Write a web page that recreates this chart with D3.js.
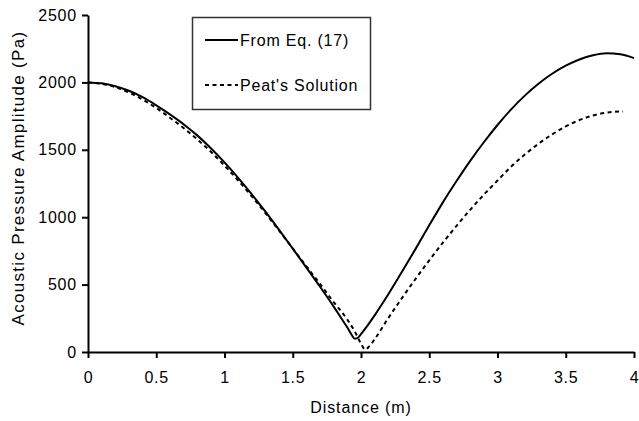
<!DOCTYPE html>
<html>
<head>
<meta charset="utf-8">
<script src="https://cdn.jsdelivr.net/npm/d3@7"></script>
<style>
  html, body { margin: 0; padding: 0; background: #fff; }
  text { font-family: "Liberation Sans", Arial, sans-serif; fill: #000; }
</style>
</head>
<body>
<svg id="chart" width="639" height="421"></svg>
<script>
// ---- data ----
const eqX = [0, 0.1, 0.2, 0.3, 0.4, 0.5, 0.6, 0.7, 0.8, 0.9, 1.0, 1.1, 1.2, 1.3, 1.4, 1.5, 1.6, 1.7, 1.8, 1.85, 1.9, 1.93, 1.955, 1.98, 2.0, 2.05, 2.1, 2.2, 2.3, 2.4, 2.5, 2.6, 2.7, 2.8, 2.9, 3.0, 3.1, 3.2, 3.3, 3.4, 3.5, 3.6, 3.7, 3.8, 3.9, 4.0];
const eqY = [2000, 1993, 1972, 1938, 1890, 1830, 1763, 1690, 1607, 1512, 1407, 1292, 1170, 1041, 906, 767, 626, 484, 337, 260, 181, 130, 99, 108, 133, 200, 272, 428, 595, 765, 940, 1110, 1268, 1418, 1556, 1684, 1800, 1902, 1990, 2064, 2124, 2170, 2201, 2216, 2208, 2180];
const peatX = [0, 0.1, 0.2, 0.3, 0.4, 0.5, 0.6, 0.7, 0.8, 0.9, 1.0, 1.1, 1.2, 1.3, 1.4, 1.5, 1.6, 1.7, 1.8, 1.9, 1.95, 2.0, 2.03, 2.06, 2.1, 2.2, 2.3, 2.4, 2.5, 2.6, 2.7, 2.8, 2.9, 3.0, 3.1, 3.2, 3.3, 3.4, 3.5, 3.6, 3.7, 3.8, 3.9, 3.92];
const peatY = [2000, 1990, 1965, 1925, 1873, 1810, 1738, 1662, 1578, 1485, 1383, 1272, 1155, 1030, 900, 768, 636, 505, 370, 240, 160, 62, 18, 42, 95, 252, 400, 543, 680, 811, 936, 1055, 1167, 1272, 1375, 1465, 1545, 1614, 1673, 1720, 1755, 1776, 1784, 1785];
const xTicks = [0, 0.5, 1, 1.5, 2, 2.5, 3, 3.5, 4];
const yTicks = [0, 500, 1000, 1500, 2000, 2500];
const seriesNames = ["From Eq. (17)", "Peat's Solution"];
const xTitle = "Distance (m)";
const yTitle = "Acoustic Pressure Amplitude (Pa)";

// ---- layout ----
const mLeft = 88, mRight = 634, mTop = 15, mBottom = 352;
const svg = d3.select("#chart");
const x = d3.scaleLinear().domain([0, 4]).range([mLeft, mRight]);
const y = d3.scaleLinear().domain([0, 2500]).range([mBottom, mTop]);

const fmt = d => String(d);

const xAxis = svg.append("g")
  .attr("transform", `translate(0,${mBottom})`)
  .call(d3.axisBottom(x).tickValues(xTicks).tickFormat(fmt).tickSize(6).tickPadding(14).tickSizeOuter(0));
const yAxis = svg.append("g")
  .attr("transform", `translate(${mLeft},0)`)
  .call(d3.axisLeft(y).tickValues(yTicks).tickFormat(fmt).tickSize(6).tickPadding(5).tickSizeOuter(0));

[xAxis, yAxis].forEach(g => {
  g.select(".domain").attr("stroke", "#000").attr("stroke-width", 2);
  g.selectAll(".tick line").attr("stroke", "#000").attr("stroke-width", 2);
  g.selectAll(".tick text")
    .attr("fill", "#000")
    .style("font-family", "'Liberation Sans', Arial, sans-serif")
    .style("font-size", "16px")
    .style("letter-spacing", "0.8px");
});

// axis titles
svg.append("text")
  .attr("x", (mLeft + mRight) / 2)
  .attr("y", 413)
  .attr("text-anchor", "middle")
  .style("font-size", "16px")
  .style("letter-spacing", "0.9px")
  .text(xTitle);

svg.append("text")
  .attr("transform", `translate(24,178) rotate(-90)`)
  .attr("text-anchor", "middle")
  .style("font-size", "17px")
  .style("letter-spacing", "1.3px")
  .text(yTitle);

// lines
const lineGen = d3.line().x(d => x(d[0])).y(d => y(d[1])).curve(d3.curveMonotoneX);
const eqData = eqX.map((v, i) => [v, eqY[i]]);
const peatData = peatX.map((v, i) => [v, peatY[i]]);

svg.append("path")
  .datum(peatData)
  .attr("d", lineGen)
  .attr("fill", "none")
  .attr("stroke", "#000")
  .attr("stroke-width", 2)
  .attr("stroke-dasharray", "4,3.5");

svg.append("path")
  .datum(eqData)
  .attr("d", lineGen)
  .attr("fill", "none")
  .attr("stroke", "#000")
  .attr("stroke-width", 2);

// legend
const lg = svg.append("g");
lg.append("rect")
  .attr("x", 192.5).attr("y", 17.5)
  .attr("width", 178).attr("height", 92)
  .attr("fill", "#fff")
  .attr("stroke", "#333")
  .attr("stroke-width", 1.5);

const legendRows = [
  { name: seriesNames[0], dash: null, cy: 40 },
  { name: seriesNames[1], dash: "4,3.5", cy: 85 }
];
legendRows.forEach(r => {
  lg.append("line")
    .attr("x1", 205).attr("x2", 238)
    .attr("y1", r.cy).attr("y2", r.cy)
    .attr("stroke", "#000").attr("stroke-width", 2)
    .attr("stroke-dasharray", r.dash);
  lg.append("text")
    .attr("x", 240).attr("y", r.cy + 6)
    .style("font-size", "16px")
    .style("letter-spacing", "0.8px")
    .text(r.name);
});
</script>
</body>
</html>
